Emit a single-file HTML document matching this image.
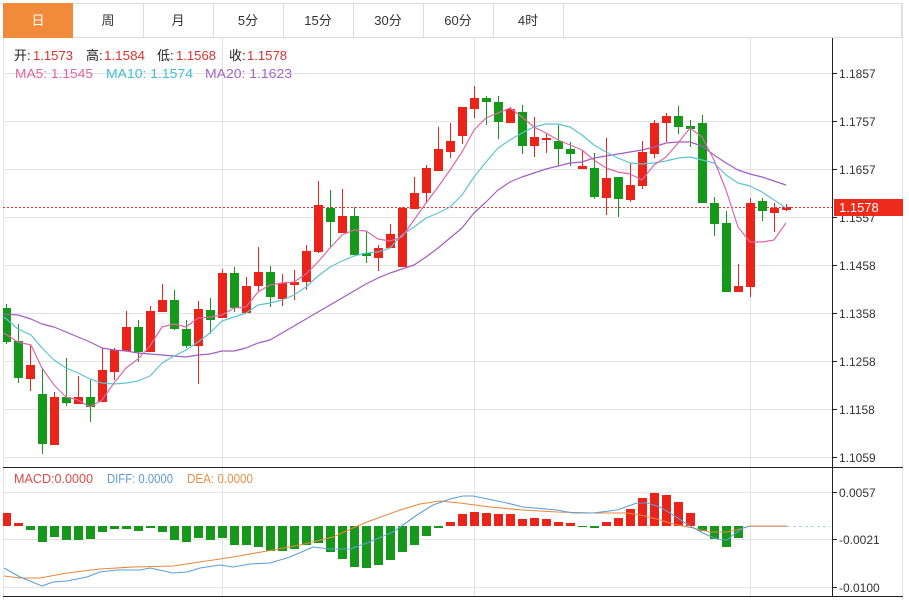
<!DOCTYPE html>
<html><head><meta charset="utf-8"><style>
html,body{margin:0;padding:0;background:#fff;}
svg{display:block;}
text{font-family:"Liberation Sans","Noto Sans CJK SC",sans-serif;}
</style></head><body>
<svg width="909" height="600" viewBox="0 0 909 600" xmlns="http://www.w3.org/2000/svg">
<rect width="909" height="600" fill="#fff"/>
<rect x="3.5" y="3.5" width="898" height="34" fill="#fff" stroke="#dcdcdc"/>
<rect x="3" y="3" width="70" height="35" fill="#f18a3b"/>
<g stroke="#dcdcdc" stroke-width="1">
<line x1="143.5" y1="3" x2="143.5" y2="38"/><line x1="213.5" y1="3" x2="213.5" y2="38"/>
<line x1="283.5" y1="3" x2="283.5" y2="38"/><line x1="353.5" y1="3" x2="353.5" y2="38"/>
<line x1="423.5" y1="3" x2="423.5" y2="38"/><line x1="493.5" y1="3" x2="493.5" y2="38"/>
<line x1="563.5" y1="3" x2="563.5" y2="38"/>
</g>
<g font-size="13" text-anchor="middle" fill="#333">
<text x="38" y="25" fill="#fff">日</text>
<text x="108" y="25">周</text>
<text x="178" y="25">月</text>
<text x="248" y="25">5分</text>
<text x="318" y="25">15分</text>
<text x="388" y="25">30分</text>
<text x="458" y="25">60分</text>
<text x="528" y="25">4时</text>
</g>
<g stroke="#e3e3e3" stroke-width="1">
<line x1="3.5" y1="38" x2="3.5" y2="600"/>
<line x1="902.5" y1="3" x2="902.5" y2="600"/>
<line x1="222.5" y1="38" x2="222.5" y2="597"/>
<line x1="474.5" y1="38" x2="474.5" y2="597"/>
<line x1="750.5" y1="38" x2="750.5" y2="597"/>
<line x1="3" y1="73.5" x2="832" y2="73.5"/>
<line x1="3" y1="121.5" x2="832" y2="121.5"/>
<line x1="3" y1="169.5" x2="832" y2="169.5"/>
<line x1="3" y1="217.5" x2="832" y2="217.5"/>
<line x1="3" y1="265.5" x2="832" y2="265.5"/>
<line x1="3" y1="313.5" x2="832" y2="313.5"/>
<line x1="3" y1="361.5" x2="832" y2="361.5"/>
<line x1="3" y1="409.5" x2="832" y2="409.5"/>
<line x1="3" y1="457.5" x2="832" y2="457.5"/>
<line x1="3" y1="492.5" x2="832" y2="492.5"/>
<line x1="3" y1="539.5" x2="832" y2="539.5"/>
<line x1="3" y1="587.5" x2="832" y2="587.5"/>
</g>
<g stroke="#222" stroke-width="1">
<line x1="832.5" y1="38" x2="832.5" y2="597"/>
<line x1="3" y1="467.5" x2="903" y2="467.5"/>
<line x1="3" y1="596.5" x2="903" y2="596.5"/>
<line x1="832" y1="73.5" x2="837" y2="73.5"/>
<line x1="832" y1="121.5" x2="837" y2="121.5"/>
<line x1="832" y1="169.5" x2="837" y2="169.5"/>
<line x1="832" y1="217.5" x2="837" y2="217.5"/>
<line x1="832" y1="265.5" x2="837" y2="265.5"/>
<line x1="832" y1="313.5" x2="837" y2="313.5"/>
<line x1="832" y1="361.5" x2="837" y2="361.5"/>
<line x1="832" y1="409.5" x2="837" y2="409.5"/>
<line x1="832" y1="457.5" x2="837" y2="457.5"/>
<line x1="832" y1="492.5" x2="837" y2="492.5"/>
<line x1="832" y1="539.5" x2="837" y2="539.5"/>
<line x1="832" y1="587.5" x2="837" y2="587.5"/>
</g>
<g font-size="12" fill="#333">
<text x="839" y="78">1.1857</text>
<text x="839" y="126">1.1757</text>
<text x="839" y="174">1.1657</text>
<text x="839" y="222">1.1557</text>
<text x="839" y="270">1.1458</text>
<text x="839" y="318">1.1358</text>
<text x="839" y="366">1.1258</text>
<text x="839" y="414">1.1158</text>
<text x="839" y="462">1.1059</text>
<text x="839" y="497">0.0057</text>
<text x="839" y="544">-0.0021</text>
<text x="839" y="592">-0.0100</text>
</g>
<line x1="3" y1="207.5" x2="832" y2="207.5" stroke="#e8382e" stroke-width="1" stroke-dasharray="2,2"/>
<rect x="834" y="199" width="69" height="17" fill="#ee2a1a"/>
<text x="839" y="212" font-size="13" fill="#fff">1.1578</text>
<g stroke="#ea2418" stroke-width="1">
<line x1="30.5" y1="346" x2="30.5" y2="391"/>
<line x1="54.5" y1="392" x2="54.5" y2="445"/>
<line x1="78.5" y1="376" x2="78.5" y2="404"/>
<line x1="102.5" y1="348" x2="102.5" y2="402"/>
<line x1="114.5" y1="348" x2="114.5" y2="380"/>
<line x1="126.5" y1="311" x2="126.5" y2="351"/>
<line x1="150.5" y1="306" x2="150.5" y2="352"/>
<line x1="162.5" y1="284" x2="162.5" y2="312"/>
<line x1="198.5" y1="301" x2="198.5" y2="384"/>
<line x1="222.5" y1="269" x2="222.5" y2="318"/>
<line x1="246.5" y1="277" x2="246.5" y2="313"/>
<line x1="258.5" y1="247" x2="258.5" y2="292"/>
<line x1="282.5" y1="274" x2="282.5" y2="306"/>
<line x1="294.5" y1="270" x2="294.5" y2="300"/>
<line x1="306.5" y1="245" x2="306.5" y2="290"/>
<line x1="318.5" y1="181" x2="318.5" y2="253"/>
<line x1="342.5" y1="189" x2="342.5" y2="233"/>
<line x1="378.5" y1="245" x2="378.5" y2="271"/>
<line x1="390.5" y1="224" x2="390.5" y2="248"/>
<line x1="402.5" y1="207" x2="402.5" y2="267"/>
<line x1="414.5" y1="177" x2="414.5" y2="209"/>
<line x1="426.5" y1="165" x2="426.5" y2="202"/>
<line x1="438.5" y1="127" x2="438.5" y2="171"/>
<line x1="450.5" y1="123" x2="450.5" y2="158"/>
<line x1="462.5" y1="107" x2="462.5" y2="144"/>
<line x1="474.5" y1="86" x2="474.5" y2="118"/>
<line x1="510.5" y1="107" x2="510.5" y2="123"/>
<line x1="534.5" y1="117" x2="534.5" y2="157"/>
<line x1="546.5" y1="134" x2="546.5" y2="153"/>
<line x1="582.5" y1="150" x2="582.5" y2="169"/>
<line x1="606.5" y1="138" x2="606.5" y2="215"/>
<line x1="630.5" y1="163" x2="630.5" y2="202"/>
<line x1="642.5" y1="141" x2="642.5" y2="189"/>
<line x1="654.5" y1="120" x2="654.5" y2="158"/>
<line x1="666.5" y1="113" x2="666.5" y2="142"/>
<line x1="738.5" y1="264" x2="738.5" y2="292"/>
<line x1="750.5" y1="198" x2="750.5" y2="297"/>
<line x1="774.5" y1="203" x2="774.5" y2="232"/>
<line x1="786.5" y1="204" x2="786.5" y2="211"/>
</g>
<g fill="#ea2418">
<rect x="26" y="365" width="9" height="14"/>
<rect x="50" y="397" width="9" height="48"/>
<rect x="74" y="397" width="9" height="7"/>
<rect x="98" y="370" width="9" height="32"/>
<rect x="110" y="350" width="9" height="22"/>
<rect x="122" y="327" width="9" height="24"/>
<rect x="146" y="311" width="9" height="41"/>
<rect x="158" y="300" width="9" height="12"/>
<rect x="194" y="309" width="9" height="37"/>
<rect x="218" y="273" width="9" height="45"/>
<rect x="242" y="286" width="9" height="27"/>
<rect x="254" y="272" width="9" height="14"/>
<rect x="278" y="283" width="9" height="16"/>
<rect x="290" y="282" width="9" height="3"/>
<rect x="302" y="251" width="9" height="31"/>
<rect x="314" y="205" width="9" height="47"/>
<rect x="338" y="216" width="9" height="17"/>
<rect x="374" y="248" width="9" height="10"/>
<rect x="386" y="234" width="9" height="14"/>
<rect x="398" y="208" width="9" height="59"/>
<rect x="410" y="193" width="9" height="16"/>
<rect x="422" y="168" width="9" height="25"/>
<rect x="434" y="149" width="9" height="22"/>
<rect x="446" y="141" width="9" height="11"/>
<rect x="458" y="107" width="9" height="29"/>
<rect x="470" y="98" width="9" height="11"/>
<rect x="506" y="109" width="9" height="14"/>
<rect x="530" y="137" width="9" height="9"/>
<rect x="542" y="138" width="9" height="2"/>
<rect x="578" y="166" width="9" height="3"/>
<rect x="602" y="178" width="9" height="20"/>
<rect x="626" y="185" width="9" height="15"/>
<rect x="638" y="152" width="9" height="34"/>
<rect x="650" y="123" width="9" height="31"/>
<rect x="662" y="116" width="9" height="7"/>
<rect x="734" y="286" width="9" height="6"/>
<rect x="746" y="203" width="9" height="84"/>
<rect x="770" y="208" width="9" height="5"/>
<rect x="782" y="207" width="9" height="3"/>
</g>
<g stroke="#16991a" stroke-width="1">
<line x1="6.5" y1="304" x2="6.5" y2="344"/>
<line x1="18.5" y1="324" x2="18.5" y2="383"/>
<line x1="42.5" y1="368" x2="42.5" y2="454"/>
<line x1="66.5" y1="358" x2="66.5" y2="406"/>
<line x1="90.5" y1="380" x2="90.5" y2="422"/>
<line x1="138.5" y1="320" x2="138.5" y2="362"/>
<line x1="174.5" y1="290" x2="174.5" y2="330"/>
<line x1="186.5" y1="320" x2="186.5" y2="348"/>
<line x1="210.5" y1="298" x2="210.5" y2="334"/>
<line x1="234.5" y1="267" x2="234.5" y2="312"/>
<line x1="270.5" y1="266" x2="270.5" y2="307"/>
<line x1="330.5" y1="190" x2="330.5" y2="248"/>
<line x1="354.5" y1="207" x2="354.5" y2="255"/>
<line x1="366.5" y1="231" x2="366.5" y2="263"/>
<line x1="486.5" y1="96" x2="486.5" y2="125"/>
<line x1="498.5" y1="96" x2="498.5" y2="139"/>
<line x1="522.5" y1="105" x2="522.5" y2="154"/>
<line x1="558.5" y1="125" x2="558.5" y2="166"/>
<line x1="570.5" y1="142" x2="570.5" y2="166"/>
<line x1="594.5" y1="153" x2="594.5" y2="199"/>
<line x1="618.5" y1="177" x2="618.5" y2="217"/>
<line x1="678.5" y1="106" x2="678.5" y2="134"/>
<line x1="690.5" y1="120" x2="690.5" y2="147"/>
<line x1="702.5" y1="115" x2="702.5" y2="203"/>
<line x1="714.5" y1="197" x2="714.5" y2="236"/>
<line x1="726.5" y1="211" x2="726.5" y2="292"/>
<line x1="762.5" y1="198" x2="762.5" y2="221"/>
</g>
<g fill="#16991a">
<rect x="3" y="308" width="8" height="34"/>
<rect x="14" y="341" width="9" height="37"/>
<rect x="38" y="394" width="9" height="50"/>
<rect x="62" y="397" width="9" height="6"/>
<rect x="86" y="397" width="9" height="10"/>
<rect x="134" y="327" width="9" height="25"/>
<rect x="170" y="300" width="9" height="29"/>
<rect x="182" y="329" width="9" height="17"/>
<rect x="206" y="310" width="9" height="10"/>
<rect x="230" y="273" width="9" height="35"/>
<rect x="266" y="272" width="9" height="25"/>
<rect x="326" y="208" width="9" height="14"/>
<rect x="350" y="216" width="9" height="39"/>
<rect x="362" y="253" width="9" height="3"/>
<rect x="482" y="98" width="9" height="4"/>
<rect x="494" y="102" width="9" height="20"/>
<rect x="518" y="112" width="9" height="34"/>
<rect x="554" y="141" width="9" height="8"/>
<rect x="566" y="149" width="9" height="5"/>
<rect x="590" y="168" width="9" height="29"/>
<rect x="614" y="177" width="9" height="22"/>
<rect x="674" y="116" width="9" height="11"/>
<rect x="686" y="126" width="9" height="3"/>
<rect x="698" y="123" width="9" height="80"/>
<rect x="710" y="203" width="9" height="21"/>
<rect x="722" y="223" width="9" height="69"/>
<rect x="758" y="201" width="9" height="10"/>
</g>
<g fill="none" stroke-width="1.2" stroke-linejoin="round">
<polyline stroke="#a35cc2" points="4,314 18,315 31,319 42,324 54,327 66,332 78,337 90,342 102,348 114,350 126,351 138,353 150,354 162,355 174,356 186,357 198,355 210,354 222,351 234,351 246,348 258,343 270,340 282,333 294,326 306,319 318,312 330,305 342,298 354,291 366,284 378,278 390,273 402,269 414,265 426,257 438,248 450,238 462,228 474,213 486,202 498,190 510,182 522,177 534,173 546,169 558,166 570,163 582,162 594,158 606,156 618,154 630,152 642,150 654,147 666,143 678,142 690,142 702,146 714,155 726,163 738,170 750,174 762,177 774,181 786,185"/>
<polyline stroke="#5cc4d2" points="4,317 18,329 31,335 42,348 54,360 66,368 78,373 90,379 102,383 114,384 126,383 138,381 150,376 162,363 174,356 186,350 198,342 210,333 222,321 234,317 246,313 258,305 270,303 282,300 294,295 306,287 318,276 330,267 342,261 354,256 366,253 378,252 390,248 402,235 414,227 426,218 438,213 450,207 462,195 474,177 486,162 498,148 510,140 522,133 534,127 546,124 558,124 570,127 582,135 594,145 606,152 618,158 630,163 642,164 654,163 666,161 678,158 690,157 702,160 714,163 726,175 738,183 750,186 762,192 774,200 786,208"/>
<polyline stroke="#de67a6" points="4,333 18,342 31,345 42,368 54,385 66,397 78,400 90,407 102,400 114,383 126,368 138,359 150,346 162,327 174,324 186,327 198,318 210,317 222,315 234,308 246,307 258,292 270,285 282,283 294,282 306,274 318,262 330,248 342,235 354,230 366,231 378,239 390,241 402,237 414,220 426,203 438,187 450,170 462,152 474,130 486,118 498,113 510,108 522,117 534,127 546,133 558,140 570,145 582,150 594,160 606,168 618,172 630,174 642,180 654,165 666,157 678,143 690,128 702,137 714,160 726,190 738,227 750,242 762,242 774,240 786,223"/>
</g>
<g font-size="13">
<text x="14" y="60" fill="#222">开:</text>
<text x="33" y="60" fill="#d9342c" textLength="40" lengthAdjust="spacingAndGlyphs">1.1573</text>
<text x="86" y="60" fill="#222">高:</text>
<text x="104" y="60" fill="#d9342c" textLength="41" lengthAdjust="spacingAndGlyphs">1.1584</text>
<text x="157" y="60" fill="#222">低:</text>
<text x="176" y="60" fill="#d9342c" textLength="40" lengthAdjust="spacingAndGlyphs">1.1568</text>
<text x="229" y="60" fill="#222">收:</text>
<text x="247" y="60" fill="#d9342c" textLength="40" lengthAdjust="spacingAndGlyphs">1.1578</text>
<text x="15" y="78" fill="#e0649f" textLength="78" lengthAdjust="spacingAndGlyphs">MA5: 1.1545</text>
<text x="106" y="78" fill="#3fbfcf" textLength="87" lengthAdjust="spacingAndGlyphs">MA10: 1.1574</text>
<text x="205" y="78" fill="#a664c4" textLength="87" lengthAdjust="spacingAndGlyphs">MA20: 1.1623</text>
</g>
<g font-size="12.5">
<text x="14" y="483" fill="#e04a44" textLength="79" lengthAdjust="spacingAndGlyphs">MACD:0.0000</text>
<text x="107" y="483" fill="#5b9bd5" textLength="66" lengthAdjust="spacingAndGlyphs">DIFF: 0.0000</text>
<text x="187" y="483" fill="#e8904a" textLength="66" lengthAdjust="spacingAndGlyphs">DEA: 0.0000</text>
</g>
<g fill="#ea2418">
<rect x="3" y="513" width="8" height="13"/>
<rect x="14" y="523" width="9" height="3"/>
<rect x="446" y="522" width="9" height="4"/>
<rect x="458" y="514" width="9" height="12"/>
<rect x="470" y="512" width="9" height="14"/>
<rect x="482" y="513" width="9" height="13"/>
<rect x="494" y="514" width="9" height="12"/>
<rect x="506" y="514" width="9" height="12"/>
<rect x="518" y="519" width="9" height="7"/>
<rect x="530" y="518" width="9" height="8"/>
<rect x="542" y="519" width="9" height="7"/>
<rect x="554" y="522" width="9" height="4"/>
<rect x="566" y="523" width="9" height="3"/>
<rect x="602" y="522" width="9" height="4"/>
<rect x="614" y="518" width="9" height="8"/>
<rect x="626" y="509" width="9" height="17"/>
<rect x="638" y="498" width="9" height="28"/>
<rect x="650" y="493" width="9" height="33"/>
<rect x="662" y="495" width="9" height="31"/>
<rect x="674" y="502" width="9" height="24"/>
<rect x="686" y="513" width="9" height="13"/>
</g>
<g fill="#16991a">
<rect x="26" y="526" width="9" height="4"/>
<rect x="38" y="526" width="9" height="16"/>
<rect x="50" y="526" width="9" height="11"/>
<rect x="62" y="526" width="9" height="14"/>
<rect x="74" y="526" width="9" height="14"/>
<rect x="86" y="526" width="9" height="13"/>
<rect x="98" y="526" width="9" height="6"/>
<rect x="110" y="526" width="9" height="3"/>
<rect x="122" y="526" width="9" height="3"/>
<rect x="134" y="526" width="9" height="5"/>
<rect x="146" y="526" width="9" height="2"/>
<rect x="158" y="526" width="9" height="6"/>
<rect x="170" y="526" width="9" height="14"/>
<rect x="182" y="526" width="9" height="16"/>
<rect x="194" y="526" width="9" height="12"/>
<rect x="206" y="526" width="9" height="14"/>
<rect x="218" y="526" width="9" height="12"/>
<rect x="230" y="526" width="9" height="19"/>
<rect x="242" y="526" width="9" height="19"/>
<rect x="254" y="526" width="9" height="21"/>
<rect x="266" y="526" width="9" height="25"/>
<rect x="278" y="526" width="9" height="25"/>
<rect x="290" y="526" width="9" height="23"/>
<rect x="302" y="526" width="9" height="19"/>
<rect x="314" y="526" width="9" height="17"/>
<rect x="326" y="526" width="9" height="26"/>
<rect x="338" y="526" width="9" height="33"/>
<rect x="350" y="526" width="9" height="41"/>
<rect x="362" y="526" width="9" height="42"/>
<rect x="374" y="526" width="9" height="39"/>
<rect x="386" y="526" width="9" height="34"/>
<rect x="398" y="526" width="9" height="26"/>
<rect x="410" y="526" width="9" height="19"/>
<rect x="422" y="526" width="9" height="10"/>
<rect x="434" y="526" width="9" height="2"/>
<rect x="578" y="526" width="9" height="1"/>
<rect x="590" y="526" width="9" height="2"/>
<rect x="698" y="526" width="9" height="5"/>
<rect x="710" y="526" width="9" height="13"/>
<rect x="722" y="526" width="9" height="21"/>
<rect x="734" y="526" width="9" height="12"/>
</g>
<g fill="none" stroke-width="1.1" stroke-linejoin="round">
<polyline stroke="#e8883a" points="4,576 20,578 40,578 67,573 100,569 133,567 173,566 200,562 233,557 267,551 300,545 333,537 353,528 367,522 400,510 420,504 440,501 460,503 490,507 523,510 557,512 593,513 627,513 640,515 657,519 673,524 693,528 710,532 727,532 740,529 750,526 787,526"/>
<polyline stroke="#5da0d8" points="4,568 20,577 42,586 53,582 67,581 87,577 100,572 117,570 140,570 150,568 173,573 187,572 200,568 220,565 233,567 250,564 270,563 290,557 313,547 330,549 350,549 367,543 393,532 417,515 433,505 450,499 463,496 473,496 507,503 523,507 557,510 573,513 593,513 617,510 637,503 647,503 660,507 673,515 690,526 707,535 717,539 727,540 733,535 743,528 750,526"/>
</g>
<line x1="750" y1="526.5" x2="787" y2="526.5" stroke="#c8a890" stroke-width="1"/>
<line x1="787" y1="526.5" x2="830" y2="526.5" stroke="#a8d4e4" stroke-width="1" stroke-dasharray="3,3"/>
</svg>
</body></html>
